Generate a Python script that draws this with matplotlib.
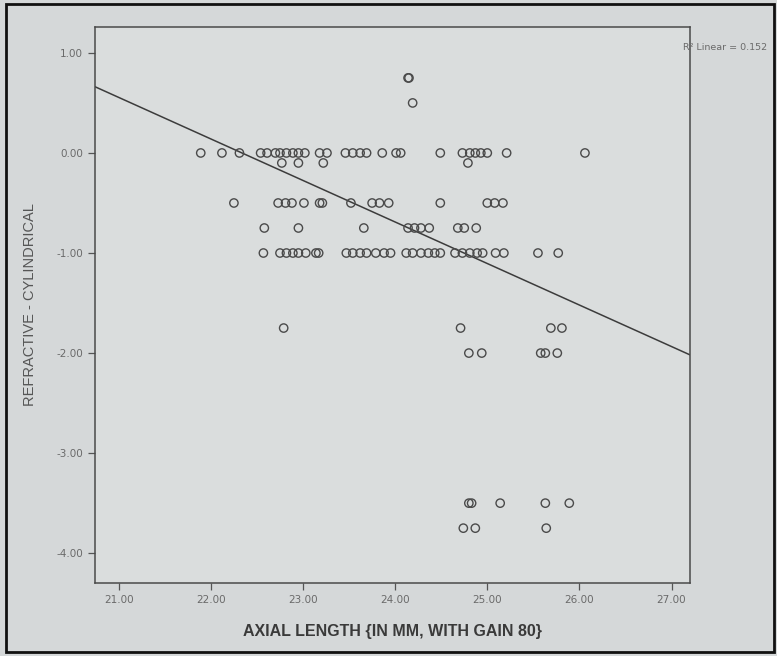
import numpy as np
import matplotlib
matplotlib.use("Agg")
import matplotlib.pyplot as plt
from matplotlib.patches import Rectangle

# axial length (mm) per refractive-cylindrical row
x_p075 = [24.14, 24.15]
x_p050 = [24.19]
x_0000 = [21.89, 22.12, 22.31, 22.54, 22.61, 22.70, 22.75, 22.82, 22.89, 22.95,
          23.02, 23.18, 23.26, 23.46, 23.54, 23.62, 23.69, 23.86, 24.01, 24.06,
          24.49, 24.73, 24.81, 24.87, 24.93, 25.00, 25.21, 26.06]
x_m010 = [22.77, 22.95, 23.22, 24.79]
x_m050 = [22.25, 22.73, 22.81, 22.88, 23.01, 23.18, 23.21, 23.52, 23.75, 23.83,
          23.93, 24.49, 25.00, 25.08, 25.17]
x_m075 = [22.58, 22.95, 23.66, 24.14, 24.21, 24.28, 24.37, 24.68, 24.75, 24.88]
x_m100 = [22.57, 22.75, 22.82, 22.89, 22.95, 23.03, 23.14, 23.17, 23.47, 23.54,
          23.62, 23.69, 23.79, 23.88, 23.95, 24.12, 24.19, 24.28, 24.36, 24.43,
          24.49, 24.65, 24.73, 24.81, 24.89, 24.95, 25.09, 25.18, 25.55, 25.77]
x_m175 = [22.79, 24.71, 25.69, 25.81]
x_m200 = [24.80, 24.94, 25.58, 25.63, 25.76]
x_m350 = [24.80, 24.83, 25.14, 25.63, 25.89]
x_m375 = [24.74, 24.87, 25.64]

rows = {0.75: x_p075, 0.5: x_p050, 0.0: x_0000, -0.1: x_m010, -0.5: x_m050,
        -0.75: x_m075, -1.0: x_m100, -1.75: x_m175, -2.0: x_m200,
        -3.5: x_m350, -3.75: x_m375}

# fit line as printed by SPSS
fit_slope = -0.415
fit_intercept = 9.27
r2_label = "R\u00b2 Linear = 0.152"

x_ticks = [21, 22, 23, 24, 25, 26, 27]
y_ticks = [1, 0, -1, -2, -3, -4]

xs = np.concatenate([np.array(v) for v in rows.values()])
ys = np.concatenate([np.full(len(v), k) for k, v in rows.items()])

fig = plt.figure(figsize=(7.77, 6.56), dpi=100, facecolor="#d5d8d9")
ax = fig.add_axes([0.122, 0.111, 0.766, 0.848])
ax.set_facecolor("#dadddd")

ax.scatter(xs, ys, s=36, facecolors="none", edgecolors="#4a4a4a", linewidths=1.0, zorder=3)

xlim = (20.74, 27.2)
xl = np.array(xlim)
ax.plot(xl, fit_intercept + fit_slope * xl, color="#3c3c3c", lw=1.1, zorder=2)

ax.set_xlim(*xlim)
ax.set_ylim(-4.30, 1.26)
ax.set_xticks(x_ticks)
ax.set_xticklabels([f"{t:.2f}" for t in x_ticks])
ax.set_yticks(y_ticks)
ax.set_yticklabels([f"{t:.2f}" for t in y_ticks])
ax.tick_params(direction="out", length=5, width=0.9, colors="#555555",
               labelsize=7.5, labelcolor="#6a6a6a")
for sp in ax.spines.values():
    sp.set_color("#4a4a4a")
    sp.set_linewidth(1.1)

ax.set_xlabel("AXIAL LENGTH {IN MM, WITH GAIN 80}", fontsize=11.5, fontweight="bold",
              color="#3a3a3a", labelpad=14, family="Liberation Sans")
ax.set_ylabel("REFRACTIVE - CYLINDRICAL", fontsize=10.5, color="#555555",
              labelpad=14, family="Liberation Sans")

fig.text(0.879, 0.928, r2_label, fontsize=6.8, color="#6a6a6a", va="center")

# dark frame of the photographed printout
fig.patches.append(Rectangle((0.008, 0.006), 0.988, 0.988, transform=fig.transFigure,
                             fill=False, edgecolor="#111111", lw=2.0))

fig.savefig("out.png", dpi=100, facecolor=fig.get_facecolor())
